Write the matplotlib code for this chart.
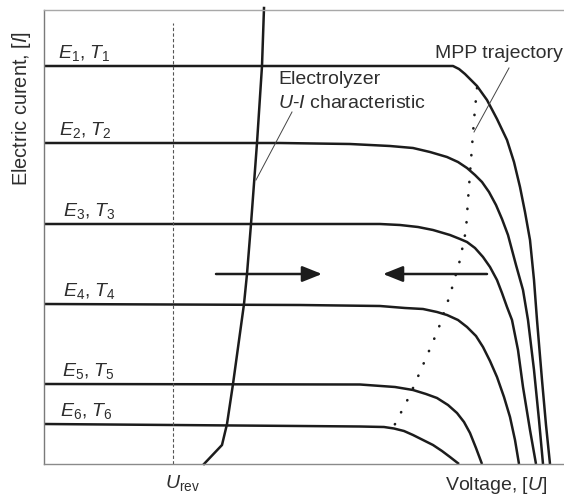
import matplotlib
matplotlib.use("Agg")
import matplotlib.pyplot as plt

plt.rcParams.update({
    "font.family": "Liberation Sans",
    "mathtext.fontset": "custom",
    "mathtext.rm": "Liberation Sans",
    "mathtext.it": "Liberation Sans:italic",
    "mathtext.bf": "Liberation Sans:bold",
})

# PV array I-V characteristics for six irradiance/temperature cases
e1_v = [0.0, 40.3, 40.9, 41.5, 42.1, 43.3, 44.3, 45.3, 46.3, 47.0, 47.6, 48.1, 48.6, 49.0, 49.3, 49.8, 50.2, 50.6]
e1_i = [39.8, 39.8, 39.8, 39.5, 39.0, 37.8, 36.4, 34.5, 32.4, 30.2, 27.7, 25.2, 22.4, 18.4, 14.4, 8.4, 3.9, 0.0]

e2_v = [0.0, 23.6, 30.6, 34.6, 36.9, 38.6, 40.3, 41.4, 42.3, 43.1, 43.8, 44.5, 45.2, 45.8, 46.4,
        47.2, 47.9, 48.4, 49.0, 49.5, 49.9]
e2_i = [32.1, 32.1, 32.0, 31.8, 31.6, 31.2, 30.7, 30.2, 29.6, 28.9, 28.2, 27.2, 25.9, 24.5, 22.9,
        19.9, 17.4, 14.4, 9.4, 4.4, 0.0]

e3_v = [0.0, 30.6, 33.6, 35.6, 37.4, 38.9, 40.6, 41.6, 42.3, 43.1, 43.9, 44.6, 45.3, 45.8, 46.3,
        46.8, 47.4, 47.9, 48.6, 49.2]
e3_i = [24.0, 24.0, 24.0, 23.9, 23.7, 23.4, 22.9, 22.5, 22.2, 21.6, 20.7, 19.7, 18.4, 17.1, 15.7,
        14.4, 11.4, 7.7, 3.4, 0.0]

e4_v = [0.0, 25.6, 33.6, 36.1, 37.9, 39.3, 40.3, 41.4, 42.3, 43.2, 43.9, 44.6, 45.3, 46.0, 46.6, 47.1, 47.5]
e4_i = [16.0, 15.9, 15.8, 15.6, 15.5, 15.2, 14.9, 14.4, 13.7, 12.8, 11.7, 10.3, 8.7, 6.7, 4.7, 2.4, 0.0]

e5_v = [0.0, 31.6, 35.1, 36.9, 38.2, 39.3, 40.4, 41.3, 42.0, 42.6, 43.2, 43.8]
e5_i = [8.0, 7.95, 7.7, 7.4, 7.0, 6.6, 5.9, 5.1, 4.2, 3.1, 1.6, 0.0]

e6_v = [0.0, 25.6, 31.6, 34.0, 35.0, 36.0, 36.9, 37.9, 38.9, 39.8, 40.6, 41.5]
e6_i = [4.0, 3.8, 3.75, 3.7, 3.55, 3.3, 2.9, 2.4, 1.9, 1.3, 0.7, 0.0]

pv_curves = [(e1_v, e1_i), (e2_v, e2_i), (e3_v, e3_i),
             (e4_v, e4_i), (e5_v, e5_i), (e6_v, e6_i)]
pv_labels = [r"$E_1$, $T_1$", r"$E_2$, $T_2$", r"$E_3$, $T_3$",
             r"$E_4$, $T_4$", r"$E_5$, $T_5$", r"$E_6$, $T_6$"]
label_x = [1.4, 1.5, 1.9, 1.9, 1.8, 1.6]

# electrolyzer load line
elz_v = [16.0, 17.8, 18.3, 18.9, 20.0, 20.3, 20.7, 21.3, 21.8, 22.0]
elz_i = [0.0, 1.9, 4.0, 8.0, 16.0, 19.0, 24.0, 32.1, 39.8, 45.6]

# maximum power point locus
mpp_v = [43.3, 43.0, 42.7, 42.4, 42.2, 41.6, 40.6, 39.4, 37.9, 36.6, 34.9]
mpp_i = [37.6, 34.4, 30.4, 26.4, 23.4, 20.4, 16.9, 13.4, 9.9, 6.9, 3.6]

u_rev = 12.9

ink = "#1c1c1c"
txt = "#2e2e2e"
fs = 14

fig = plt.figure(figsize=(5.64, 4.96), dpi=100)
ax = fig.add_axes([44 / 564, 32 / 496, 520 / 564, 454 / 496])
ax.set_xlim(0, 52)
ax.set_ylim(0, 45.4)
ax.set_xticks([])
ax.set_yticks([])
ax.spines["right"].set_visible(False)
ax.spines["left"].set_color("#7a7a7a")
ax.spines["bottom"].set_color("#8a8a8a")
ax.spines["top"].set_color("#a8a8a8")
for s in ("left", "bottom", "top"):
    ax.spines[s].set_linewidth(1.0)

for (v, i), lab, lx in zip(pv_curves, pv_labels, label_x):
    ax.plot(v, i, color=ink, lw=1.8, solid_joinstyle="round", solid_capstyle="butt")
    ax.text(lx, i[0] + 1.3, lab, fontsize=fs, color=txt, va="center", ha="left")

ax.plot(elz_v, elz_i, color=ink, lw=1.8, solid_joinstyle="round", clip_on=False)

ax.plot(mpp_v, mpp_i, color=ink, lw=1.9, linestyle=(0, (0.1, 5.0)),
        dash_capstyle="round")

ax.plot([u_rev, u_rev], [0, 44.1], color="#555555", lw=0.8, linestyle=(0, (3, 2)))

arrow_kw = dict(arrowstyle="-|>,head_length=0.6,head_width=0.24",
                color=ink, lw=1.8, mutation_scale=20, shrinkA=0, shrinkB=0)
ax.annotate("", xy=(27.8, 19.0), xytext=(17.2, 19.0), arrowprops=arrow_kw)
ax.annotate("", xy=(33.9, 19.0), xytext=(44.3, 19.0), arrowprops=arrow_kw)

# annotations with leader lines
ax.text(23.4, 38.4, "Electrolyzer", fontsize=fs, color=txt, va="center", ha="left")
ax.text(23.4, 36.1, r"$U$-$I$ characteristic", fontsize=fs, color=txt,
        va="center", ha="left")
ax.plot([24.8, 21.2], [35.2, 28.4], color="#444444", lw=0.7)

ax.text(51.9, 41.1, "MPP trajectory", fontsize=fs, color=txt, va="center", ha="right")
ax.plot([46.5, 43.0], [39.6, 33.2], color="#444444", lw=0.7)

ax.text(u_rev + 0.9, -1.9, r"$U_{\mathrm{rev}}$", fontsize=fs, color=txt,
        va="center", ha="center", clip_on=False)
ax.text(50.3, -2.1, r"Voltage, [$U$]", fontsize=fs, color=txt,
        va="center", ha="right", clip_on=False)

fig.text(22 / 564, 1 - 31 / 496, r"Electric curent, [$I$]", fontsize=14.4,
         color=txt, rotation=90, va="top", ha="center")

fig.savefig("out.png", dpi=100, facecolor="white")
